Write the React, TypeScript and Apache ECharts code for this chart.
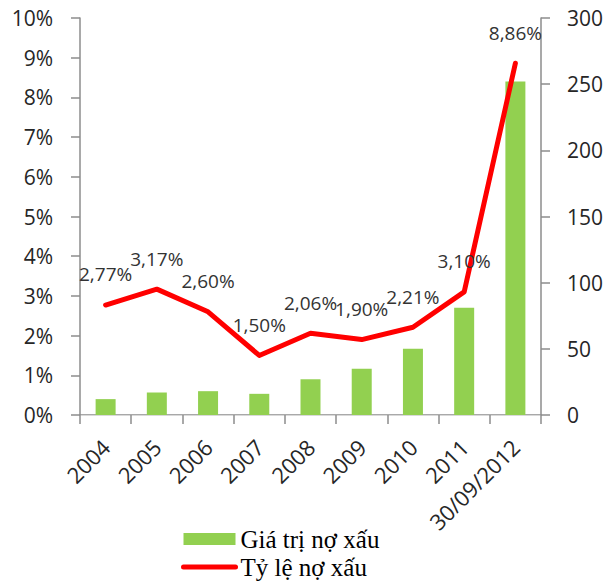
import React, { useEffect, useRef } from "react";
import * as echarts from "echarts";

const categories = ["2004", "2005", "2006", "2007", "2008", "2009", "2010", "2011", "30/09/2012"];
const badDebtValue = [12, 17, 18, 16, 27, 35, 50, 81, 252];
const badDebtRatio = [2.77, 3.17, 2.6, 1.5, 2.06, 1.9, 2.21, 3.1, 8.86];
const leftTicks = { min: 0, max: 10, interval: 1 };
const rightTicks = { min: 0, max: 300, interval: 50 };
const barName = "Giá trị nợ xấu";
const lineName = "Tỷ lệ nợ xấu";

export default function App() {
  const ref = useRef<HTMLDivElement>(null);
  useEffect(() => {
    document.body.style.margin = "0";
    const chart = echarts.init(ref.current!, null, { renderer: "svg" });
    const axisColor = "#8c8c8c";
    const labelFont = { fontFamily: "Open Sans", fontSize: 21, color: "#262626" };
    chart.setOption({
      animation: false,
      backgroundColor: "#ffffff",
      grid: { left: 80, right: 67, top: 18, bottom: 166, containLabel: false },
      legend: {
        orient: "vertical",
        left: 181,
        top: 526,
        padding: 0,
        itemWidth: 52,
        itemHeight: 12,
        itemGap: 2,
        textStyle: { fontFamily: "Liberation Serif", fontSize: 25, color: "#000", lineHeight: 26 },
        data: [
          { name: barName, icon: "rect" },
          {
            name: lineName,
            itemStyle: { opacity: 0 },
            lineStyle: { color: "#ff0000", width: 5, cap: "round" },
          },
        ],
      },
      xAxis: [
        {
          type: "category",
          data: categories,
          position: "bottom",
          axisLine: { lineStyle: { color: axisColor, width: 1.5 } },
          axisTick: { show: true, length: 9, lineStyle: { color: axisColor, width: 1.5 } },
          axisLabel: { ...labelFont, fontSize: 22, rotate: 45, margin: 28, interval: 0 },
        },
        {
          type: "category",
          data: categories,
          position: "top",
          axisLine: { lineStyle: { color: "#d9d9d9", width: 1 } },
          axisTick: { show: false },
          axisLabel: { show: false },
        },
      ],
      yAxis: [
        {
          type: "value",
          position: "left",
          min: leftTicks.min,
          max: leftTicks.max,
          interval: leftTicks.interval,
          splitLine: { show: false },
          axisLine: { show: true, lineStyle: { color: axisColor, width: 1.5 } },
          axisTick: { show: true, length: 9, lineStyle: { color: axisColor, width: 1.5 } },
          axisLabel: { ...labelFont, margin: 27, formatter: "{value}%" },
        },
        {
          type: "value",
          position: "right",
          min: rightTicks.min,
          max: rightTicks.max,
          interval: rightTicks.interval,
          splitLine: { show: false },
          axisLine: { show: true, lineStyle: { color: axisColor, width: 1.5 } },
          axisTick: { show: true, length: 9, lineStyle: { color: axisColor, width: 1.5 } },
          axisLabel: { ...labelFont, margin: 26 },
        },
      ],
      series: [
        {
          name: barName,
          type: "bar",
          xAxisIndex: 0,
          yAxisIndex: 1,
          data: badDebtValue,
          barWidth: 20,
          itemStyle: { color: "#92D050" },
          z: 2,
        },
        {
          name: lineName,
          type: "line",
          xAxisIndex: 0,
          yAxisIndex: 0,
          data: badDebtRatio,
          symbol: "circle",
          symbolSize: 0.1,
          showSymbol: true,
          lineStyle: { color: "#ff0000", width: 5, cap: "round", join: "round" },
          itemStyle: { color: "#ff0000" },
          z: 3,
          label: {
            show: true,
            position: "top",
            distance: 21,
            fontFamily: "Open Sans",
            fontSize: 19,
            color: "#333333",
            formatter: (p: any) => p.value.toFixed(2).replace(".", ",") + "%",
          },
        },
      ],
    });
    return () => chart.dispose();
  }, []);
  return <div ref={ref} style={{ width: 608, height: 581 }} />;
}
